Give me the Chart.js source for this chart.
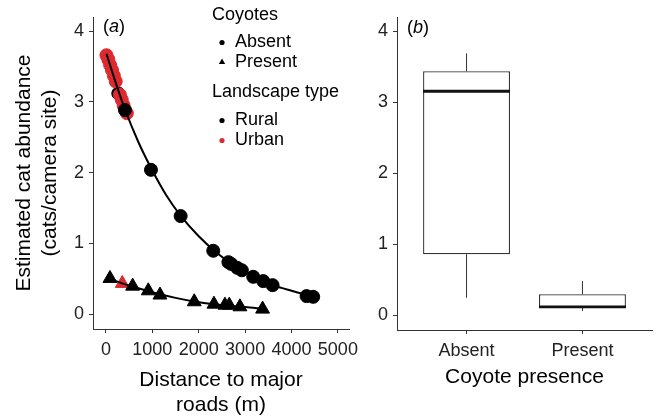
<!DOCTYPE html>
<html>
<head>
<meta charset="utf-8">
<script src="https://cdn.jsdelivr.net/npm/chart.js@4.4.1/dist/chart.umd.min.js"></script>
<style>
    html, body { margin: 0; padding: 0; background: #fff; }
    #quadro { position: relative; width: 656px; height: 420px; }
    #grafico-a { position: absolute; left: 0; top: 0; }
    #grafico-b { position: absolute; left: 370px; top: 0; }
</style>
</head>
<body>
<div id="quadro">
    <canvas id="grafico-a" width="370" height="420"></canvas>
    <canvas id="grafico-b" width="286" height="420"></canvas>
</div>
<script>
// Painel (a): abundância estimada vs distância
const ruralAusenteX = [409, 970, 1610, 2313, 2640, 2700, 2830, 2930, 3175, 3391, 3592, 4325, 4468];
const ruralAusenteY = [2.885, 2.04, 1.386, 0.896, 0.735, 0.71, 0.655, 0.62, 0.528, 0.467, 0.41, 0.255, 0.245];
const ruralAusenteFundoX = [265];
const ruralAusenteFundoY = [3.12];
const urbanoAusenteX = [10, 50, 90, 130, 170, 210, 300, 340, 380, 450];
const urbanoAusenteY = [3.66, 3.6, 3.52, 3.45, 3.37, 3.29, 3.1, 3.03, 2.95, 2.84];
const ruralPresenteX = [86, 575, 912, 1164, 1903, 2328, 2565, 2658, 2888, 3377];
const ruralPresenteY = [0.505, 0.396, 0.33, 0.27, 0.175, 0.141, 0.127, 0.127, 0.104, 0.071];
const urbanoPresenteX = [351];
const urbanoPresenteY = [0.434];

// curvas ajustadas
const curvaAusenteX = [10, 200, 400, 700, 1000, 1300, 1600, 2000, 2400, 2800, 3200, 3600, 4000, 4470];
const curvaAusenteY = [3.68, 3.29, 2.91, 2.43, 2.03, 1.68, 1.40, 1.10, 0.86, 0.67, 0.53, 0.41, 0.33, 0.25];
const curvaPresenteX = [86, 350, 575, 912, 1164, 1500, 1903, 2328, 2700, 3000, 3380];
const curvaPresenteY = [0.50, 0.435, 0.39, 0.325, 0.28, 0.23, 0.18, 0.14, 0.115, 0.10, 0.075];

const ticksX = [0, 1000, 2000, 3000, 4000, 5000];
const ticksY = [0, 1, 2, 3, 4];

// Painel (b): boxplot por presença de coiotes
const categorias = ['Absent', 'Present'];
const caixaMin = [0.245, 0.057];
const caixaQ1 = [0.858, 0.10];
const caixaMediana = [3.154, 0.115];
const caixaQ3 = [3.437, 0.293];
const caixaMax = [3.687, 0.48];

const FONTE = '"Liberation Sans", Arial, Helvetica, sans-serif';
const VERMELHO = '#DD2A2F';
const LARGURA_CAIXA = 0.75;

function pares(xs, ys) {
    return xs.map((x, i) => ({ x: x, y: ys[i] }));
}

// Rótulo do painel, "(a)" com a letra em itálico
function rotuloPainel(letra, x, y) {
    return {
        id: 'rotulo-' + letra,
        afterDraw(chart) {
            const ctx = chart.ctx;
            ctx.save();
            ctx.fillStyle = '#000';
            ctx.textBaseline = 'middle';
            let px = x;
            ctx.font = '18px ' + FONTE;
            ctx.fillText('(', px, y);
            px += ctx.measureText('(').width;
            ctx.font = 'italic 18px ' + FONTE;
            ctx.fillText(letra, px, y);
            px += ctx.measureText(letra).width;
            ctx.font = '18px ' + FONTE;
            ctx.fillText(')', px, y);
            ctx.restore();
        }
    };
}

// Legenda dentro do painel (a)
const legendaPlugin = {
    id: 'legenda',
    afterDraw(chart) {
        const ctx = chart.ctx;
        ctx.save();
        ctx.font = '18px ' + FONTE;
        ctx.fillStyle = '#000';
        ctx.textBaseline = 'middle';
        ctx.fillText('Coyotes', 212, 15);
        ctx.fillText('Absent', 235, 42);
        ctx.fillText('Present', 235, 62);
        ctx.fillText('Landscape type', 212, 92);
        ctx.fillText('Rural', 235, 120);
        ctx.fillText('Urban', 235, 140);

        ctx.beginPath();
        ctx.arc(222, 42.5, 2.6, 0, Math.PI * 2);
        ctx.fill();
        ctx.beginPath();
        ctx.moveTo(222, 58.5);
        ctx.lineTo(225.2, 64);
        ctx.lineTo(218.8, 64);
        ctx.closePath();
        ctx.fill();
        ctx.beginPath();
        ctx.arc(222, 120.5, 2.6, 0, Math.PI * 2);
        ctx.fill();
        ctx.fillStyle = VERMELHO;
        ctx.beginPath();
        ctx.arc(222, 140.5, 2.6, 0, Math.PI * 2);
        ctx.fill();
        ctx.restore();
    }
};

function eixoY(largura, titulo) {
    return {
        type: 'linear',
        min: -0.21,
        max: 4.2,
        afterBuildTicks: s => { s.ticks = ticksY.map(v => ({ value: v })); },
        afterFit: s => { s.width = largura; },
        ticks: { font: { family: FONTE, size: 18 }, color: '#222', padding: 5 },
        grid: { drawOnChartArea: false, tickLength: 4, color: '#333' },
        border: { color: '#333', width: 1 },
        title: titulo
    };
}

function criarGraficoA() {
    const ctx = document.getElementById('grafico-a').getContext('2d');
    const pontos = { pointRadius: 6.5, pointHoverRadius: 6.5, borderWidth: 1, showLine: false };

    new Chart(ctx, {
        type: 'scatter',
        data: {
            datasets: [
                {
                    label: 'Ajuste ausente',
                    data: pares(curvaAusenteX, curvaAusenteY),
                    showLine: true, borderColor: '#000', borderWidth: 2, pointRadius: 0,
                    cubicInterpolationMode: 'monotone', order: 0
                },
                {
                    label: 'Ajuste presente',
                    data: pares(curvaPresenteX, curvaPresenteY),
                    showLine: true, borderColor: '#000', borderWidth: 2, pointRadius: 0,
                    cubicInterpolationMode: 'monotone', order: 0
                },
                Object.assign({
                    label: 'Rural ausente',
                    data: pares(ruralAusenteX, ruralAusenteY),
                    pointStyle: 'circle', backgroundColor: '#000', borderColor: '#000', order: 1
                }, pontos),
                Object.assign({
                    label: 'Urbano ausente',
                    data: pares(urbanoAusenteX, urbanoAusenteY),
                    pointStyle: 'circle', backgroundColor: VERMELHO, borderColor: VERMELHO, order: 2
                }, pontos),
                Object.assign({
                    label: 'Rural ausente (fundo)',
                    data: pares(ruralAusenteFundoX, ruralAusenteFundoY),
                    pointStyle: 'circle', backgroundColor: '#000', borderColor: '#000', order: 3
                }, pontos),
                Object.assign({}, pontos, {
                    label: 'Rural presente',
                    data: pares(ruralPresenteX, ruralPresenteY),
                    pointStyle: 'triangle', pointRadius: 8, pointHoverRadius: 8,
                    backgroundColor: '#000', borderColor: '#000', order: 4
                }),
                Object.assign({}, pontos, {
                    label: 'Urbano presente',
                    data: pares(urbanoPresenteX, urbanoPresenteY),
                    pointStyle: 'triangle', pointRadius: 8, pointHoverRadius: 8,
                    backgroundColor: VERMELHO, borderColor: VERMELHO, order: 5
                })
            ]
        },
        options: {
            responsive: false,
            devicePixelRatio: 1,
            animation: false,
            layout: { padding: { top: 17, right: 21, left: 0, bottom: 0 } },
            plugins: { legend: { display: false }, tooltip: { enabled: false } },
            scales: {
                x: {
                    type: 'linear',
                    min: -280,
                    max: 5240,
                    afterBuildTicks: s => { s.ticks = ticksX.map(v => ({ value: v })); },
                    afterFit: s => { s.height = 91; },
                    ticks: {
                        font: { family: FONTE, size: 18 }, color: '#222', padding: 6, maxRotation: 0, autoSkip: false,
                        callback: v => String(v)
                    },
                    grid: { drawOnChartArea: false, tickLength: 4, color: '#333' },
                    border: { color: '#333', width: 1 },
                    title: {
                        display: true,
                        text: ['Distance to major', 'roads (m)'],
                        font: { family: FONTE, size: 21 },
                        color: '#000',
                        padding: { top: 0, bottom: 2 }
                    }
                },
                y: eixoY(93, {
                    display: true,
                    text: ['Estimated cat abundance', '(cats/camera site)'],
                    font: { family: FONTE, size: 21 },
                    color: '#000',
                    padding: { top: 12, bottom: 0 }
                })
            }
        },
        plugins: [legendaPlugin, rotuloPainel('a', 103, 27)]
    });
}

function criarGraficoB() {
    const ctx = document.getElementById('grafico-b').getContext('2d');
    const meia = LARGURA_CAIXA / 2;

    const bigodes = categorias.flatMap((c, i) => [
        [{ x: i + 1, y: caixaQ3[i] }, { x: i + 1, y: caixaMax[i] }],
        [{ x: i + 1, y: caixaMin[i] }, { x: i + 1, y: caixaQ1[i] }]
    ]).map(d => ({
        type: 'line', data: d, borderColor: '#333', borderWidth: 1, pointRadius: 0, order: 1
    }));

    const medianas = categorias.map((c, i) => ({
        type: 'line',
        data: [{ x: i + 1 - meia, y: caixaMediana[i] }, { x: i + 1 + meia, y: caixaMediana[i] }],
        borderColor: '#111', borderWidth: 2.8, pointRadius: 0, order: 0
    }));

    new Chart(ctx, {
        type: 'bar',
        data: {
            datasets: [
                {
                    type: 'bar',
                    label: 'Caixa',
                    data: categorias.map((c, i) => ({ x: i + 1, y: [caixaQ1[i], caixaQ3[i]] })),
                    backgroundColor: '#fff',
                    borderColor: '#333',
                    borderWidth: 1.3,
                    borderSkipped: false,
                    barPercentage: LARGURA_CAIXA,
                    categoryPercentage: 1,
                    order: 2
                }
            ].concat(bigodes, medianas)
        },
        options: {
            responsive: false,
            devicePixelRatio: 1,
            animation: false,
            layout: { padding: { top: 17, right: 4, left: 0, bottom: 0 } },
            plugins: { legend: { display: false }, tooltip: { enabled: false } },
            scales: {
                x: {
                    type: 'linear',
                    offset: false,
                    min: 0.4,
                    max: 2.6,
                    afterBuildTicks: s => { s.ticks = categorias.map((c, i) => ({ value: i + 1 })); },
                    afterFit: s => { s.height = 90; },
                    ticks: {
                        font: { family: FONTE, size: 18 }, color: '#222', padding: 6, maxRotation: 0, autoSkip: false,
                        callback: v => categorias[v - 1]
                    },
                    grid: { drawOnChartArea: false, tickLength: 4, color: '#333', offset: false },
                    border: { color: '#333', width: 1 },
                    title: {
                        display: true,
                        text: 'Coyote presence',
                        font: { family: FONTE, size: 21 },
                        color: '#000',
                        padding: { top: 0, bottom: 30 }
                    }
                },
                y: eixoY(27, { display: false })
            }
        },
        plugins: [rotuloPainel('b', 37, 28)]
    });
}

criarGraficoA();
criarGraficoB();
</script>
</body>
</html>
